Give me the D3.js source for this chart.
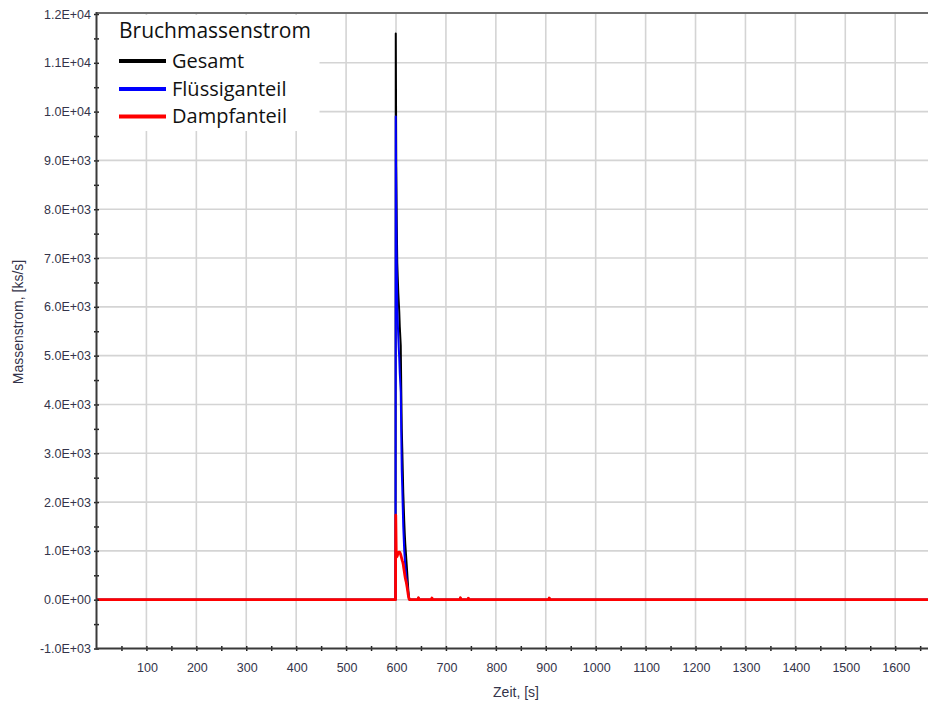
<!DOCTYPE html>
<html><head><meta charset="utf-8">
<script src="https://cdn.jsdelivr.net/npm/d3@7"></script>
<style>
html,body{margin:0;padding:0;background:#fff;}
svg{display:block;}
</style></head>
<body>
<svg id="chart" width="928" height="706"></svg>
<script>
// ---- data ----
const time = [0, 599, 599.5, 600.5, 601.5, 602.5, 603.5, 604.5, 605.5, 606.5, 607.5, 608.5, 609.5, 610.5, 611.5, 612.5, 613.5, 614.5, 615.5, 616.5, 617.5, 618.5, 619.5, 620.5, 621.5, 622.5, 623.5, 624.5, 625.5, 626.5, 627.5, 630, 644, 645, 646, 671, 672, 673, 728, 729, 730, 744, 745, 746, 906, 907, 908, 1666];
const gesamt = [0, 0, 11600, 8900, 7700, 6900, 6600, 6300, 6100, 5900, 5600, 5400, 5200, 4300, 3500, 3100, 2650, 2200, 1900, 1600, 1350, 1150, 1000, 850, 700, 540, 370, 220, 90, 20, 0, 0, 0, 40, 0, 0, 35, 0, 0, 40, 0, 0, 30, 0, 0, 35, 0, 0];
const fluessig = [0, 0, 9900, 8000, 6800, 6000, 5700, 5400, 5150, 4950, 4650, 4450, 4250, 3400, 2650, 2300, 1900, 1500, 1250, 1000, 850, 700, 600, 500, 400, 300, 200, 120, 50, 10, 0, 0, 0, 0, 0, 0, 0, 0, 0, 0, 0, 0, 0, 0, 0, 0, 0, 0];
const dampf = [0, 0, 1730, 900, 880, 900, 930, 960, 975, 975, 970, 950, 920, 880, 840, 800, 770, 720, 650, 580, 510, 450, 400, 360, 300, 240, 170, 100, 40, 10, 0, 0, 0, 40, 0, 0, 35, 0, 0, 40, 0, 0, 30, 0, 0, 35, 0, 0];
const seriesNames = ["Gesamt", "Flüssiganteil", "Dampfanteil"];
const seriesColors = ["#000000", "#0000ff", "#ff0000"];
const legendTitle = "Bruchmassenstrom";
const xTicks = [100, 200, 300, 400, 500, 600, 700, 800, 900, 1000, 1100, 1200, 1300, 1400, 1500, 1600];
const yTicks = [-1000, 0, 1000, 2000, 3000, 4000, 5000, 6000, 7000, 8000, 9000, 10000, 11000, 12000];
const xTitle = "Zeit, [s]";
const yTitle = "Massenstrom, [ks/s]";

(function () {
// ---- layout ----
const svg = d3.select("#chart");
const pL = 96.5, pR = 928, pT = 14, pB = 648.5;
const x = d3.scaleLinear().domain([0, 1665.7]).range([pL, pR]);
const y = d3.scaleLinear().domain([-1000, 12000]).range([pB, pT]);

const fmt = v => {
  if (v === 0) return "0.0E+00";
  const e = Math.floor(Math.log10(Math.abs(v)));
  const m = v / Math.pow(10, e);
  return m.toFixed(1) + "E+" + String(e).padStart(2, "0");
};

// grid
const grid = svg.append("g");
grid.selectAll("line.vx").data(xTicks).join("line")
  .attr("x1", d => x(d)).attr("x2", d => x(d))
  .attr("y1", pT).attr("y2", pB)
  .attr("stroke", "#d4d4d4").attr("stroke-width", 1.6);
grid.selectAll("line.hy").data(yTicks.filter(d => d > -1000 && d < 12000)).join("line")
  .attr("x1", pL).attr("x2", pR)
  .attr("y1", d => y(d)).attr("y2", d => y(d))
  .attr("stroke", "#d4d4d4").attr("stroke-width", 1.6);

// legend background
svg.append("rect").attr("x", pL + 1).attr("y", pT + 1)
  .attr("width", 222).attr("height", 116).attr("fill", "#fff");

// lines
svg.append("clipPath").attr("id", "clip").append("rect")
  .attr("x", pL).attr("y", pT).attr("width", pR - pL).attr("height", pB - pT);
const line = vals => d3.line().x((d, i) => x(time[i])).y(d => y(d))(vals);
const lines = svg.append("g").attr("clip-path", "url(#clip)");
const widths = [2, 2, 2.8];
[gesamt, fluessig, dampf].forEach((vals, k) => {
  lines.append("path").attr("d", line(vals))
    .attr("fill", "none").attr("stroke", seriesColors[k])
    .attr("stroke-width", widths[k]).attr("stroke-linejoin", "round");
});

// axes
const labelColor = "#34344a";
const xAxis = svg.append("g").attr("transform", `translate(0,${pB})`)
  .call(d3.axisBottom(x).tickValues(d3.range(50, 1666, 50)).tickSize(0).tickFormat(""));
xAxis.select(".domain").remove();
xAxis.selectAll(".tick").append("line").attr("y1", -2.5).attr("y2", 2.5)
  .attr("stroke", "#222").attr("stroke-width", 1.5);
svg.append("g").selectAll("text").data(xTicks).join("text")
  .attr("x", d => x(d) + 1).attr("y", 672)
  .attr("text-anchor", "middle")
  .attr("font-family", "Liberation Sans, Arial, sans-serif").attr("font-size", 12.5)
  .attr("fill", labelColor).text(d => d);

const yAxis = svg.append("g").attr("transform", `translate(${pL},0)`)
  .call(d3.axisLeft(y).tickValues(d3.range(-1000, 12001, 500)).tickSize(0).tickFormat(""));
yAxis.select(".domain").remove();
yAxis.selectAll(".tick").append("line").attr("x1", -2.5).attr("x2", 2.5)
  .attr("stroke", "#222").attr("stroke-width", 1.5);
svg.append("g").selectAll("text").data(yTicks).join("text")
  .attr("x", 91).attr("y", d => y(d) + 4.5)
  .attr("text-anchor", "end")
  .attr("font-family", "Liberation Sans, Arial, sans-serif").attr("font-size", 12.5)
  .attr("fill", labelColor).text(d => fmt(d));

// frame
svg.append("line").attr("x1", pL).attr("x2", pR).attr("y1", pT - 1).attr("y2", pT - 1)
  .attr("stroke", "#6e6e6e").attr("stroke-width", 2);
svg.append("line").attr("x1", pL).attr("x2", pR).attr("y1", pB).attr("y2", pB)
  .attr("stroke", "#3a3a3a").attr("stroke-width", 2);
svg.append("line").attr("x1", pL).attr("x2", pL).attr("y1", pT - 2).attr("y2", pB + 1)
  .attr("stroke", "#3a3a3a").attr("stroke-width", 2);

// axis titles
svg.append("text").attr("x", 516).attr("y", 697).attr("text-anchor", "middle")
  .attr("font-family", "Liberation Sans, Arial, sans-serif").attr("font-size", 14)
  .attr("fill", labelColor).text(xTitle);
svg.append("text").attr("transform", "translate(23,322) rotate(-90)").attr("text-anchor", "middle")
  .attr("font-family", "Liberation Sans, Arial, sans-serif").attr("font-size", 14)
  .attr("fill", labelColor).text(yTitle);

// legend
const lg = svg.append("g");
lg.append("text").attr("x", 119).attr("y", 38)
  .attr("font-family", "Open Sans, sans-serif").attr("font-size", 21)
  .attr("fill", "#111").text(legendTitle);
const ly = [61, 89, 116.5];
seriesNames.forEach((n, k) => {
  lg.append("line").attr("x1", 119).attr("x2", 166).attr("y1", ly[k]).attr("y2", ly[k])
    .attr("stroke", seriesColors[k]).attr("stroke-width", 4);
  lg.append("text").attr("x", 172).attr("y", ly[k] + 6.5)
    .attr("font-family", "Open Sans, sans-serif").attr("font-size", 20)
    .attr("fill", "#111").text(n);
});
})();
</script>
</body></html>
